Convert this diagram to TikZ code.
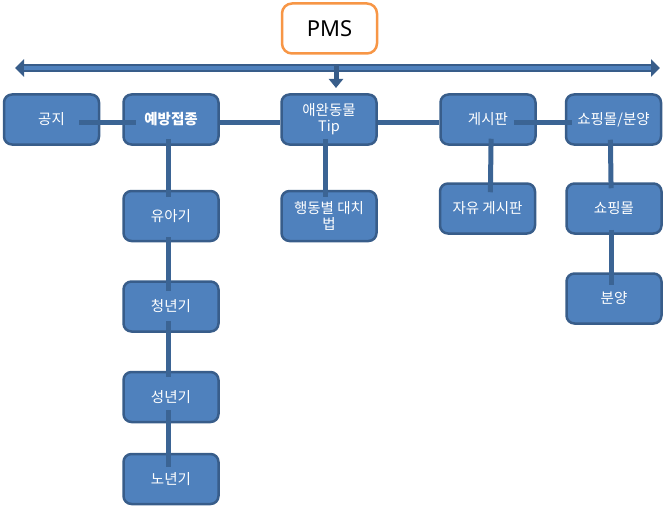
\documentclass[tikz,border=0pt]{standalone}
\usepackage{fontspec}
\setmainfont{Noto Sans CJK KR}
\newfontfamily\latinfont{Noto Sans}
\usetikzlibrary{arrows.meta}
\definecolor{boxfill}{HTML}{4F81BD}
\definecolor{boxline}{HTML}{385D8A}
\definecolor{barcol}{HTML}{3B6494}
\definecolor{pmsline}{HTML}{F79646}

\begin{document}
\begin{tikzpicture}[x=1pt,y=-1pt,
        b/.style={rectangle, rounded corners=8pt, draw=boxline, fill=boxfill,
                        line width=2.5pt, minimum width=95pt, minimum height=50pt,
                        text=white, align=center, inner sep=2pt,
                        font=\fontsize{14.5}{16}\selectfont},
        l/.style={draw=barcol, line width=5pt,
                        shorten <=-7pt, shorten >=-7pt}]
    \useasboundingbox (0,0) rectangle (666,508);
    \node[rectangle, rounded corners=10pt, draw=pmsline, fill=white, line width=2.5pt,
        minimum width=95pt, minimum height=50pt,
        font=\latinfont\fontsize{22}{26}\selectfont] (pms) at (329.5,28.5) {PMS};

    \node[b] (gongji) at (51.5,119.5) {공지};
    \node[b, font=\fontsize{14.5}{16}\selectfont\bfseries] (yebang) at (171,119.5) {예방접종};
    \node[b] (tip) at (329,119.5) {애완동물\\Tip};
    \node[b] (board) at (488,119.5) {게시판};
    \node[b] (shop) at (613.5,119.5) {쇼핑몰/분양};

    \node[b] (yua) at (171,216) {유아기};
    \node[b] (cheong) at (171,306.5) {청년기};
    \node[b] (seong) at (171,397) {성년기};
    \node[b] (nonyeon) at (171,479) {노년기};
    \node[b] (haeng) at (329,216) {행동별 대치\\법};
    \node[b] (free) at (487.5,208.5) {자유 게시판};
    \node[b] (mall) at (614,208.5) {쇼핑몰};
    \node[b] (bun) at (614,298.5) {분양};

    % main bar
    \coordinate (left) at (15,68);
    \coordinate (right) at (660,68);
    \coordinate (mid) at (336,66);
    \coordinate (down) at (336,88);
    \draw[boxline, line width=7.5pt,
        {Triangle[width=17pt,length=9pt]}-{Triangle[width=17pt,length=9pt]}]
        (left) -- (right);
    \draw[boxfill, line width=4pt, shorten <=9pt, shorten >=9pt] (left) -- (right);
    \draw[boxline, line width=5pt, -{Triangle[width=14pt,length=9pt]}] (mid) -- (down);

    % links
    \draw[l, shorten <=-21pt, shorten >=-14pt]
        ([yshift=-3pt]gongji.east) -- ([yshift=-3pt]yebang.west);
    \draw[l, shorten <=0pt, shorten >=0pt]
        ([yshift=-3pt]yebang.east) -- ([yshift=-3pt]tip.west);
    \draw[l, shorten <=0pt, shorten >=0pt]
        ([yshift=-3pt]tip.east) -- ([yshift=-3pt]board.west);
    \draw[l, shorten <=-23pt, shorten >=-7pt]
        ([yshift=-3pt]board.east) -- ([yshift=-3pt]shop.west);

    \draw[l] ([xshift=-3pt]yebang.south) -- ([xshift=-3pt]yua.north);
    \draw[l, shorten <=-5pt, shorten >=-11pt]
        ([xshift=-3pt]yua.south) -- ([xshift=-3pt]cheong.north);
    \draw[l, shorten <=-12pt, shorten >=-6pt]
        ([xshift=-3pt]cheong.south) -- ([xshift=-3pt]seong.north);
    \draw[l, shorten <=-13pt, shorten >=-14pt]
        ([xshift=-3pt]seong.south) -- ([xshift=-3pt]nonyeon.north);
    \draw[l] ([xshift=-4pt]tip.south) -- ([xshift=-4pt]haeng.north);
    \draw[l, shorten >=-10pt] ([xshift=3pt]board.south) -- ([xshift=3pt]free.north);
    \draw[l, shorten <=-6pt, shorten >=-6pt]
        ([xshift=-3pt]shop.south) -- ([xshift=-3pt]mall.north);
    \draw[l, shorten <=-5pt, shorten >=-13pt]
        ([xshift=-3pt]mall.south) -- ([xshift=-3pt]bun.north);
\end{tikzpicture}
\end{document}
